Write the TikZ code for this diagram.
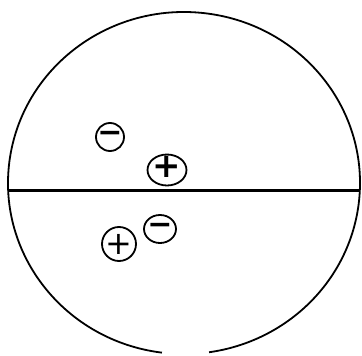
\documentclass[tikz,border=0pt]{standalone}
\usepackage{fontspec}
\newfontfamily\signfont{DejaVu Sans}
\usetikzlibrary{shapes.geometric}
\begin{document}
\begin{tikzpicture}[x=1pt,y=-1pt,
  charge/.style={draw,ellipse,line width=1.8pt,inner sep=0pt},
  sign/.style={inner sep=0pt,font=\signfont\bfseries\fontsize{#1}{#1}\selectfont},
  thinsign/.style={inner sep=0pt,font=\signfont\fontsize{#1}{#1}\selectfont}]
\useasboundingbox (0,0) rectangle (362,356);
% outer boundary with a gap at the bottom
\draw[line width=1.8pt] ([shift={(97.2:176 and 171)}]184,183) arc[start angle=97.2,end angle=441.8,x radius=176,y radius=171];
% dividing line
\coordinate (L) at (9,190.5);
\coordinate (R) at (360,190.5);
\draw[line width=3pt] (L) -- (R);
% charges
\node[charge,minimum width=28pt,minimum height=28pt] (m1) at (110,137) {};
\node[sign=30] (m1s) at (m1.center) {−};
\node[charge,minimum width=39pt,minimum height=31pt] (p1) at (167,170) {};
\node[sign=34] (p1s) at ([yshift=3pt]p1.center) {+};
\node[charge,minimum width=32pt,minimum height=28pt] (m2) at (160,229) {};
\node[sign=30] (m2s) at (m2.center) {−};
\node[charge,minimum width=34pt,minimum height=34pt] (p2) at (119,244) {};
\node[thinsign=32] (p2s) at (p2.center) {+};
\end{tikzpicture}
\end{document}
